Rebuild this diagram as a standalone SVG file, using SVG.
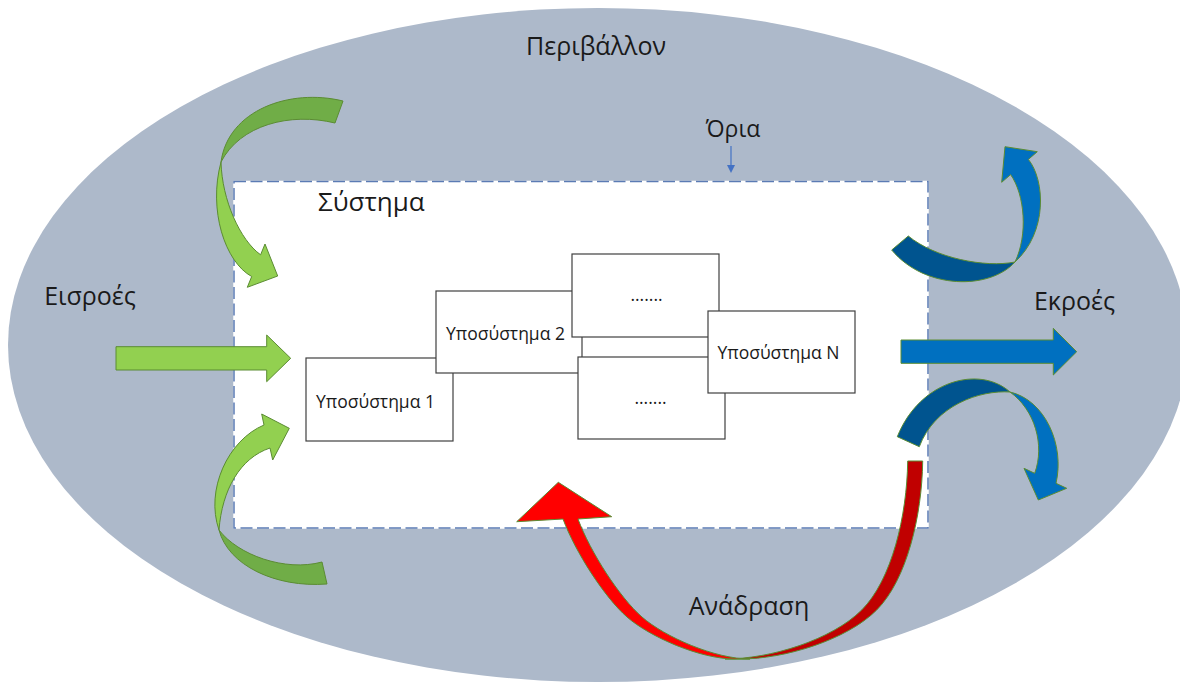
<svg xmlns="http://www.w3.org/2000/svg" width="1180" height="684" viewBox="0 0 1180 684">
  <style>
    text { font-family: "Open Sans", "Noto Sans", "DejaVu Sans", sans-serif; fill: #1a1a1a; }
    .lbl { font-size: 25px; text-anchor: middle; }
    .sub { font-size: 17.5px; text-anchor: middle; }
    .box { fill: #ffffff; stroke: #404040; stroke-width: 1.2; }
    .ol { stroke: #5B8C33; stroke-width: 1; stroke-linejoin: miter; }
    .g-light { fill: #92D050; }
    .g-dark { fill: #70AD47; }
    .b-light { fill: #0070C0; }
    .b-dark { fill: #00548F; }
    .r-light { fill: #FF0000; }
    .r-dark { fill: #C00000; }
  </style>
  <rect width="1180" height="684" fill="#ffffff"/>

  <g id="environment">
    <ellipse cx="598" cy="345" rx="590" ry="337" fill="#ADB9CA"/>
    <text class="lbl" x="596" y="55">Περιβάλλον</text>
  </g>

  <g id="system">
    <rect x="234" y="181.5" width="694" height="346.5" fill="#ffffff" stroke="#ffffff" stroke-width="1.5"/>
    <rect x="234" y="181.5" width="694" height="346.5" fill="none" stroke="#5B7BB4" stroke-width="1.5" stroke-dasharray="12,4.5"/>
    <text x="318" y="211" style="font-size:26px">Σύστημα</text>
  </g>

  <g id="boundary">
    <text class="lbl" x="733" y="137" style="font-size:23px">Όρια</text>
    <line x1="731" y1="146" x2="731" y2="166" stroke="#4472C4" stroke-width="1.2"/>
    <polygon points="727,165 735,165 731,173" fill="#4472C4"/>
  </g>

  <g id="subsystem1">
    <rect class="box" x="306" y="358" width="147" height="83"/>
    <text class="sub" x="375.5" y="408">Υποσύστημα 1</text>
  </g>
  <g id="subsystem2">
    <rect class="box" x="436" y="291" width="146" height="82"/>
    <text class="sub" x="505.5" y="340">Υποσύστημα 2</text>
  </g>
  <g id="subsystem-dots-top">
    <rect class="box" x="572" y="254" width="147" height="83"/>
    <text class="sub" x="646.5" y="301">.......</text>
  </g>
  <g id="subsystem-dots-bottom">
    <rect class="box" x="578" y="357" width="147" height="82"/>
    <text class="sub" x="650.5" y="404">.......</text>
  </g>
  <g id="subsystemN">
    <rect class="box" x="708" y="311" width="147" height="82"/>
    <text class="sub" x="778.5" y="359">Υποσύστημα N</text>
  </g>

  <g id="inputs-label">
    <text class="lbl" x="90" y="305">Εισροές</text>
  </g>
  <g id="outputs-label">
    <text class="lbl" x="1074.5" y="310">Εκροές</text>
  </g>
  <g id="feedback-label">
    <text class="lbl" x="749" y="615">Ανάδραση</text>
  </g>

  <g id="connectors">
    <path class="g-light ol" d="M116,346.7 L266.7,346.7 L266.7,335 L290.7,358.3 L266.7,381.7 L266.7,370 L116,370 Z"/>
    <path class="b-light ol" d="M901,340 L1053.3,340 L1053.3,328.3 L1076.7,351.7 L1053.3,375 L1053.3,363.3 L901,363.3 Z"/>

    <path class="g-dark ol" d="M343,101 L335,123 C290,112 240,125 221,162 C228,110 290,88 343,101 Z"/>
    <path class="g-light ol" d="M260.6,254.8 C240,240 222,200 221,162 C208,210 225,262 251.7,276.5 L247.3,287.3 L277.7,276 L265,244 Z"/>

    <path class="g-dark ol" d="M219,530 C228,565 275,588 327,584 L322,562 C285,572 238,555 219,530 Z"/>
    <path class="g-light ol" d="M264,425 C228,440 205,490 219,530 C222,490 240,458 270,448 L272.7,460 L289.3,428.3 L261.7,414 Z"/>

    <path class="b-dark ol" d="M1015,262 C990,290 925,290 891.7,250 L908.3,236 C935,258 985,268 1015,262 Z"/>
    <path class="b-light ol" d="M1010.6,174.6 C1025,195 1028,235 1015,262 C1048,232 1045,180 1028.4,159.4 L1037.3,151.7 L1005,146.7 L1001.7,182.3 Z"/>

    <path class="b-dark ol" d="M897.3,436.7 C920,380 980,365 1010,392 C980,390 935,405 919.3,446.7 Z"/>
    <path class="b-light ol" d="M1034.7,473.3 C1045,445 1035,410 1010,392 C1045,400 1065,445 1056,483.3 L1066.7,488.3 L1038.3,500 L1024,468.3 Z"/>

    <path class="r-dark ol" d="M907.7,461 L922.7,461 C922,516 906.7,580 876.7,610 C846.7,640 785,659 740,659 L725,659 C770,659 831.7,640 861.7,610 C891.7,580 907,516 907.7,461 Z"/>
    <path class="r-light ol" d="M578,519 C590.3,551.9 619.4,597.2 642,617 C664.6,636.8 715,659 750,659 L735,659 C700,659 649.6,636.8 627,617 C604.4,597.2 575.3,551.9 563,519 L516.7,521.7 L558.3,482.3 L611.7,516.7 Z"/>
  </g>
</svg>
